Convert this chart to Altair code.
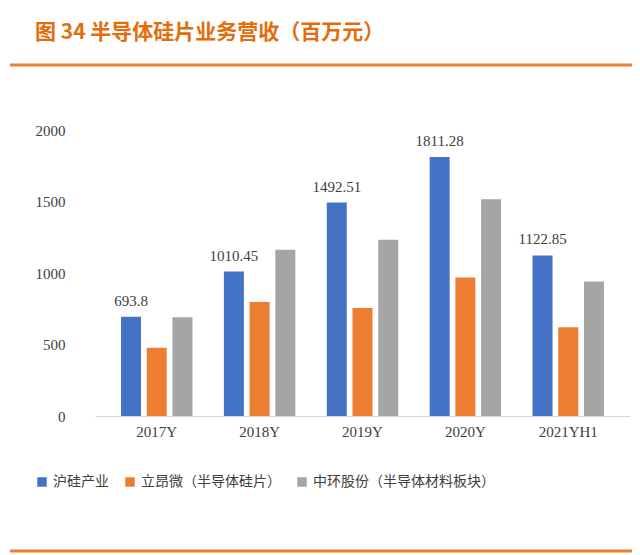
import altair as alt
import pandas as pd

years = ["2017Y", "2018Y", "2019Y", "2020Y", "2021YH1"]
series = ["沪硅产业", "立昂微（半导体硅片）", "中环股份（半导体材料板块）"]
hgcy = [693.8, 1010.45, 1492.51, 1811.28, 1122.85]
lam = [478, 797, 755, 968, 620]
zhgf = [690, 1163, 1233, 1515, 940]
colors = ["#4472C4", "#ED7D31", "#A5A5A5"]

rows = []
for i, y in enumerate(years):
    for s, vals in zip(series, [hgcy, lam, zhgf]):
        rows.append({"year": y, "series": s, "value": vals[i],
                     "label": (f"{vals[i]:g}" if s == series[0] else "")})
df = pd.DataFrame(rows)

base = alt.Chart(df)
bars = base.mark_bar(size=20).encode(
    x=alt.X("year:N", sort=years, title=None,
            axis=alt.Axis(labelAngle=0, ticks=False, domainColor="#D9D9D9",
                          labelFont="Liberation Serif", labelFontSize=15,
                          labelColor="#404040", labelPadding=8)),
    xOffset=alt.XOffset("series:N", sort=series, scale=alt.Scale(paddingInner=0.3, paddingOuter=0.25)),
    y=alt.Y("value:Q", title=None, scale=alt.Scale(domain=[0, 2000]),
            axis=alt.Axis(values=[0, 500, 1000, 1500, 2000], format="d", grid=False, domain=False, ticks=False,
                          labelFont="Liberation Serif", labelFontSize=15,
                          labelColor="#404040", labelPadding=30)),
    color=alt.Color("series:N", sort=series, scale=alt.Scale(domain=series, range=colors),
                    legend=alt.Legend(title=None, orient="none", legendX=-60, legendY=345,
                                      direction="horizontal", symbolType="square", symbolSize=90,
                                      labelFont="Noto Sans CJK SC", labelFontSize=14, labelLimit=400,
                                      labelColor="#404040", columnPadding=14)),
)
labels = base.mark_text(dy=-16, font="Liberation Serif", fontSize=15, color="#404040").encode(
    x=alt.X("year:N", sort=years),
    xOffset=alt.XOffset("series:N", sort=series),
    y="value:Q",
    text="label:N",
)
title = alt.Chart(pd.DataFrame({"t": ["图 34  半导体硅片业务营收（百万元）"]})).mark_text(
    align="left", baseline="top", font="Noto Sans CJK SC", fontSize=21, fontWeight="bold",
    color="#E46C0A").encode(x=alt.value(-60), y=alt.value(-108), text="t:N")
line_top = alt.Chart(pd.DataFrame({"a": [0]})).mark_rule(color="#ED7D31", strokeWidth=3, clip=False).encode(
    x=alt.value(-85), x2=alt.value(545), y=alt.value(-65))
line_bot = alt.Chart(pd.DataFrame({"a": [0]})).mark_rule(color="#ED7D31", strokeWidth=3, clip=False).encode(
    x=alt.value(-85), x2=alt.value(545), y=alt.value(421))

chart = alt.layer(bars, labels, title, line_top, line_bot).properties(
    width=535, height=286, autosize="none",
    padding={"left": 87, "top": 122, "right": 2, "bottom": 139},
).configure(background="white", view=alt.ViewConfig(stroke=None))

chart.save("out.html", embed_options={"renderer": "svg", "actions": False})
